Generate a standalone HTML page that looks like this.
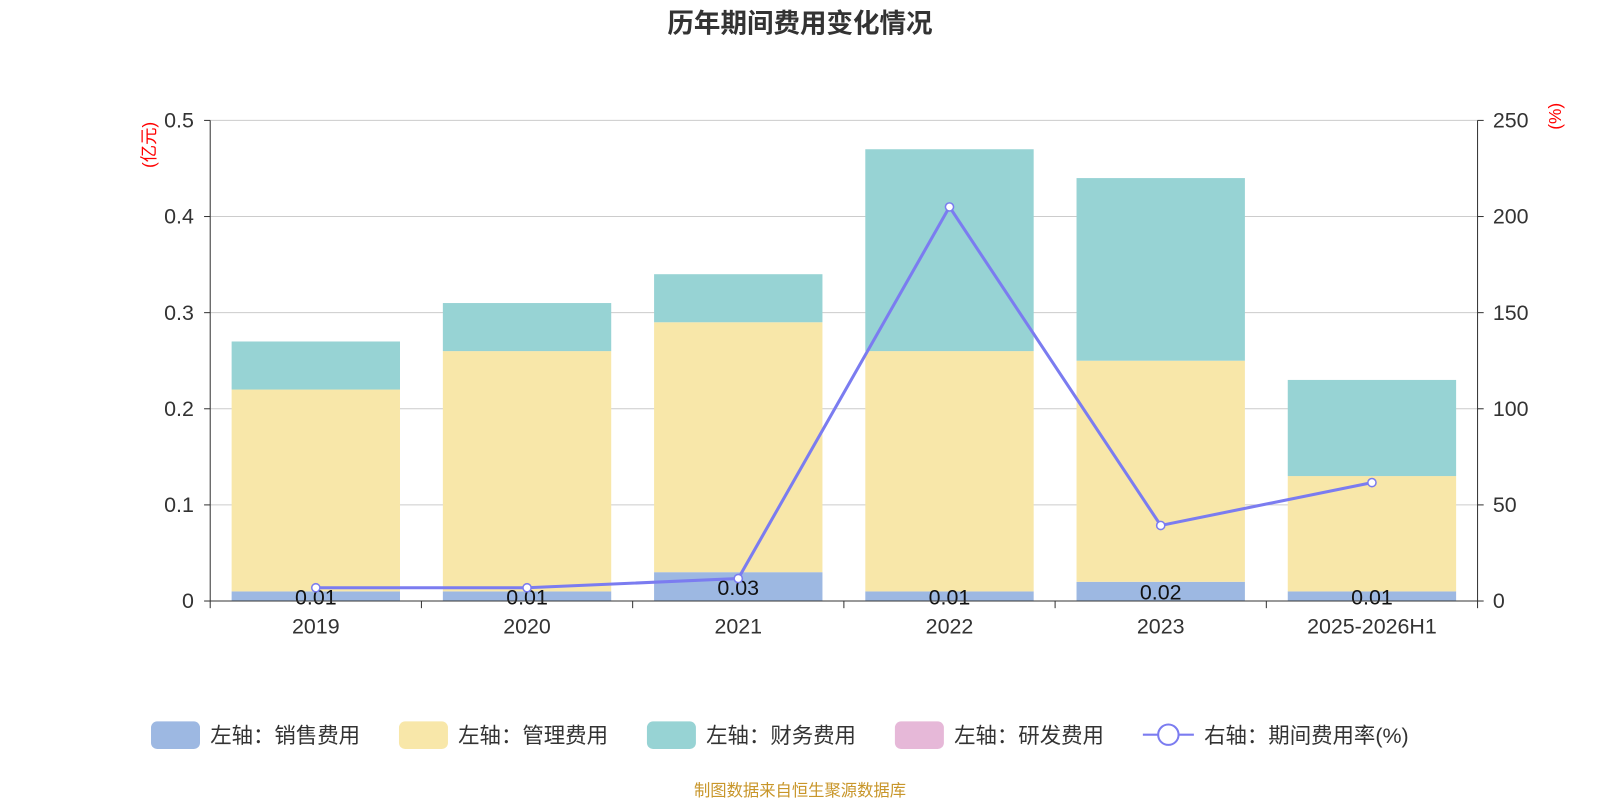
<!DOCTYPE html>
<html><head><meta charset="utf-8">
<style>
body{margin:0;background:#fff;font-family:"Liberation Sans","Noto Sans CJK SC",sans-serif;}
#wrap{position:relative;width:1600px;height:800px;overflow:hidden}
</style></head>
<body>
<div id="wrap">
<svg id="chart" width="1600" height="800" viewBox="0 0 1568 784" xmlns="http://www.w3.org/2000/svg"></svg>
</div>
<script>
const categories=["2019","2020","2021","2022","2023","2025-2026H1"];
const salesValues=[0.01,0.01,0.03,0.01,0.02,0.01];
const salesLabels=["0.01","0.01","0.03","0.01","0.02","0.01"];
const mgmtValues=[0.21,0.25,0.26,0.25,0.23,0.12];
const finValues=[0.05,0.05,0.05,0.21,0.19,0.10];
const rdValues=[0,0,0,0,0,0];
const rateValues=[6.9,6.9,11.7,205,39.3,61.6];
const leftTicks=[0,0.1,0.2,0.3,0.4,0.5];
const leftTickLabels=["0","0.1","0.2","0.3","0.4","0.5"];
const rightTicks=[0,50,100,150,200,250];

const svg=document.getElementById('chart');
const NS='http://www.w3.org/2000/svg';
const X0=206,X1=1448,Y0=589,Y1=118;
const band=(X1-X0)/categories.length;
const yL=v=>Y0-(v/0.5)*(Y0-Y1);
const yR=v=>Y0-(v/250)*(Y0-Y1);
const xc=i=>X0+band*(i+0.5);
function mk(tag,attrs,text){const e=document.createElementNS(NS,tag);for(const k in attrs)e.setAttribute(k,attrs[k]);if(text!==undefined)e.textContent=text;svg.appendChild(e);return e;}

let t=mk('text',{x:784,y:32,'text-anchor':'middle','font-size':26,'font-weight':'bold',fill:'#333'},'历年期间费用变化情况');



leftTicks.forEach((v,i)=>{
  if(v>0){let g=mk('line',{x1:X0,x2:X1,y1:yL(v),y2:yL(v),stroke:'#ccc','stroke-width':1});
  
  }
  let l=mk('text',{x:190,y:yL(v)+7,'text-anchor':'end','font-size':21,fill:'#333'},leftTickLabels[i]);
  
  
  mk('line',{x1:X0-6,x2:X0,y1:yL(v),y2:yL(v),stroke:'#333'});
});
rightTicks.forEach(v=>{
  let l=mk('text',{x:1463,y:yR(v)+7,'text-anchor':'start','font-size':21,fill:'#333'},String(v));
  
  
  mk('line',{x1:X1,x2:X1+6,y1:yR(v),y2:yR(v),stroke:'#333'});
});
let ua=mk('text',{x:0,y:0,'font-size':17,fill:'red',transform:'translate(152,142) rotate(-90)','text-anchor':'middle'},'(亿元)');


let ub=mk('text',{x:0,y:0,'font-size':17,fill:'red',transform:'translate(1530,114) rotate(-90)','text-anchor':'middle'},'(%)');



const bw=165;
categories.forEach((c,i)=>{
  const x=xc(i)-bw/2;
  let base=0;
  [[salesValues,'#9db8e2','bar-sales'],[mgmtValues,'#f8e7a9','bar-management'],[finValues,'#97d3d4','bar-finance'],[rdValues,'#e6b8d8','bar-rd']].forEach(([arr,col,nm])=>{
    const v=arr[i];
    if(v>0){
      let r=mk('rect',{x:x,y:yL(base+v),width:bw,height:yL(base)-yL(base+v),fill:col});
      
      
    }
    base+=v;
  });
  let lb=mk('text',{x:xc(i),y:(yL(salesValues[i])+Y0)/2+8,'text-anchor':'middle','font-size':21,fill:'#111'},salesLabels[i]);
  
  
  let cl=mk('text',{x:xc(i),y:621,'text-anchor':'middle','font-size':21,fill:'#333'},c);
  
  
});
for(let i=0;i<=categories.length;i++){mk('line',{x1:X0+band*i,x2:X0+band*i,y1:Y0,y2:Y0+7,stroke:'#333'});}
mk('line',{x1:X0,x2:X0,y1:Y1,y2:Y0,stroke:'#333'});
mk('line',{x1:X1,x2:X1,y1:Y1,y2:Y0,stroke:'#333'});
let xa=mk('line',{x1:X0,x2:X1,y1:Y0,y2:Y0,stroke:'#333'});



let pts=rateValues.map((v,i)=>xc(i)+','+yR(v)).join(' ');
let pl=mk('polyline',{points:pts,fill:'none',stroke:'#7b7cf0','stroke-width':3});


rateValues.forEach((v,i)=>{
  let c=mk('circle',{cx:xc(i),cy:yR(v),r:4,fill:'#fff',stroke:'#7b7cf0','stroke-width':1.5});
  
  
});

const legendNames=["左轴：销售费用","左轴：管理费用","左轴：财务费用","左轴：研发费用"];
const legendColors=['#9db8e2','#f8e7a9','#97d3d4','#e6b8d8'];
const legendX=[148,391,634,877];
legendNames.forEach((n,i)=>{
  let r=mk('rect',{x:legendX[i],y:707,width:48,height:27,rx:6,fill:legendColors[i]});
  
  
  let tx=mk('text',{x:legendX[i]+58,y:728,'font-size':21,fill:'#333'},n);
  
  
});
mk('line',{x1:1120,x2:1170,y1:720,y2:720,stroke:'#7b7cf0','stroke-width':2});
let lc=mk('circle',{cx:1145,cy:720,r:10,fill:'#fff',stroke:'#7b7cf0','stroke-width':2});


let lt=mk('text',{x:1180,y:728,'font-size':21,fill:'#333'},'右轴：期间费用率(%)');



let src=mk('text',{x:784,y:780,'text-anchor':'middle','font-size':16,fill:'#c8962a'},'制图数据来自恒生聚源数据库');


</script>
</body></html>
